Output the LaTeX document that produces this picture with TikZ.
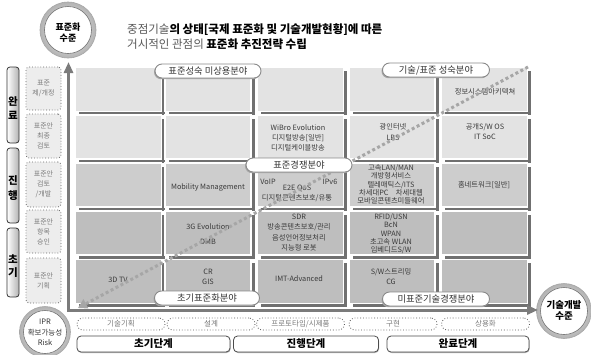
\documentclass[tikz,border=0pt]{standalone}
\usepackage{fontspec}
\setmainfont{Noto Sans CJK KR}
\usetikzlibrary{arrows.meta,shadows}
\definecolor{cellA}{HTML}{E3E3E3}
\definecolor{cellB}{HTML}{CDCDCD}
\definecolor{cellC}{HTML}{BEBEBE}
\definecolor{shad}{HTML}{707070}
\definecolor{axisc}{HTML}{7B7B7B}
\definecolor{txt}{HTML}{3A3A3A}
\definecolor{ltxt}{HTML}{7A7A7A}
\definecolor{diagc}{HTML}{A6A6A6}
\definecolor{pillb}{HTML}{8A8A8A}
\begin{document}
\begin{tikzpicture}[x=1pt,y=-1pt,
  cell/.style={draw=white, line width=1.6pt, minimum width=86pt, minimum height=44pt, inner sep=0pt,
    general shadow={fill=shad, shadow xshift=3.5pt, shadow yshift=-3.5pt}},
  ctext/.style={align=center, text=txt, inner sep=0pt, font=\fontsize{7.3}{10}\selectfont},
  tight/.style={align=center, text=txt, inner sep=0pt, font=\fontsize{7.3}{8.3}\selectfont},
  pill/.style={draw=pillb, line width=0.9pt, fill=white, rounded corners=7pt, minimum height=14pt, inner sep=0pt,
    text=black!80, font=\fontsize{9.3}{10}\selectfont,
    general shadow={fill=gray!70, shadow xshift=-1pt, shadow yshift=-1.2pt}},
  stagebox/.style={draw=black!60, line width=0.8pt, dotted, rounded corners=3pt, fill=black!7, minimum width=35pt,
    inner sep=0pt, align=center, text=ltxt, font=\fontsize{7}{10}\selectfont},
  phase/.style={draw=black!80, line width=0.8pt, rounded corners=3pt, left color=white, right color=black!30,
    minimum width=12pt, inner sep=0pt},
  phtext/.style={align=center, inner sep=0pt, font=\bfseries\fontsize{10.5}{14.5}\selectfont},
  steppill/.style={draw=black!65, line width=0.8pt, dotted, rounded corners=6pt, fill=white, minimum width=88pt,
    minimum height=12pt, inner sep=0pt, text=ltxt, font=\fontsize{7.5}{8}\selectfont},
  levelbox/.style={draw=black!70, line width=0.8pt, rounded corners=4pt, fill=white, minimum height=16pt, inner sep=0pt,
    font=\bfseries\fontsize{10.5}{12}\selectfont,
    general shadow={fill=gray!60, shadow xshift=0.6pt, shadow yshift=-1pt}},
  ringout/.style={circle, draw=black!35, line width=0.6pt, inner color=white, outer color=black!30, inner sep=0pt},
  ringin/.style={circle, draw=black!55, line width=0.6pt, fill=white, inner sep=0pt},
  axis/.style={draw=axisc, line width=3pt, line join=miter},
  diag/.style={draw=diagc, line width=3pt, dash pattern=on 3pt off 2.6pt}
]
\fill[white] (0,0) rectangle (591,354);
\useasboundingbox (0,0) rectangle (591,354);

% title
\node[anchor=west, inner sep=0pt, font=\fontsize{11.5}{13}\selectfont] (title1) at (127,30)
  {\textcolor{black!65}{중점기술}\textbf{의 상태[국제 표준화 및 기술개발현황]에 따른}};
\node[anchor=west, inner sep=0pt, font=\fontsize{11.5}{13}\selectfont] (title2) at (127,44)
  {\textcolor{black!65}{거시적인 관점의 }\textbf{표준화 추진전략 수립}};

% circles
\node[ringout, minimum size=56pt] (cyo) at (68,30) {};
\node[ringin, minimum size=47pt] (cyi) at (68,30) {};
\node[align=center, inner sep=0pt, font=\bfseries\fontsize{9}{11.5}\selectfont] (cyt) at (68,32.5) {표준화\\수준};

\node[ringout, minimum size=51pt] (cro) at (45,332) {};
\node[ringin, minimum size=43pt] (cri) at (45,332) {};
\node[align=center, inner sep=0pt, text=black!80, font=\fontsize{7.5}{10.5}\selectfont] (crt) at (45,332.5) {IPR\\확보가능성\\Risk};

\node[ringout, minimum size=55pt] (cxo) at (564,311) {};
\node[ringin, minimum size=47pt] (cxi) at (564,311) {};
\node[align=center, inner sep=0pt, font=\bfseries\fontsize{9.5}{11.5}\selectfont] (cxt) at (564,310.5) {기술개발\\수준};

% phase boxes on the left
\node[phase, minimum height=76pt] (p1) at (13,105) {};
\node[phtext] (p1t) at (13,108) {완\\료};
\node[phase, minimum height=75pt] (p2) at (13,185.5) {};
\node[phtext] (p2t) at (13,188) {진\\행};
\node[phase, minimum height=69pt] (p3) at (13,262.5) {};
\node[phtext, font=\bfseries\fontsize{10.5}{13}\selectfont] (p3t) at (13,266) {초\\기};

% standard stages
\node[stagebox, minimum height=43pt] (s1) at (43.5,88.5) {표준\\제/개정};
\node[stagebox, minimum height=44pt] (s2) at (43.5,136) {표준안\\최종\\검토};
\node[stagebox, minimum height=45pt] (s3) at (43.5,184.5) {표준안\\검토\\/개발};
\node[stagebox, minimum height=43pt] (s4) at (43.5,231.5) {표준안\\항목\\승인};
\node[stagebox, minimum height=45pt] (s5) at (43.5,280.5) {표준안\\기획};

% grid cells
\foreach \r/\y/\c in {1/89.5/cellA, 2/137/cellA, 3/185/cellB, 4/233/cellC, 5/281.5/cellC}
  \foreach \k/\x in {1/118.5, 2/208, 3/300.5, 4/392, 5/484.5}
    \node[cell, fill=\c] (c\r\k) at (\x,\y) {};

% cell texts
\node[ctext] (t15) at (485,92) {정보시스템아키텍쳐};
\node[ctext] (t23) at (298,137.5) {WiBro Evolution\\디지털방송[일반]\\디지털케이블방송};
\node[ctext, font=\fontsize{7.3}{11}\selectfont] (t24) at (393,132.5) {광인터넷\\LBS};
\node[ctext] (t25) at (485,132) {공개S/W OS\\IT SoC};
\node[ctext] (t32) at (208,188) {Mobility Management};
\node[ctext] (t33a) at (268,182) {VoIP};
\node[ctext] (t33b) at (330,182) {IPv6};
\node[ctext] (t33c) at (297,188.5) {E2E QoS};
\node[ctext] (t33d) at (297,198) {디지털콘텐츠보호/유통};
\node[tight] (t34) at (391,184.5) {고속LAN/MAN\\개방형서비스\\텔레매틱스/ITS\\차세대PC\quad 차세대웹\\모바일콘텐츠미들웨어};
\node[ctext] (t35) at (484,185) {홈네트워크[일반]};
\node[ctext, font=\fontsize{7.3}{15}\selectfont] (t42) at (208,234.5) {3G Evolution\\DMB};
\node[ctext, font=\fontsize{7.3}{10.3}\selectfont] (t43) at (299,232.5) {SDR\\방송콘텐츠보호/관리\\음성언어정보처리\\지능형 로봇};
\node[tight] (t44) at (391,234) {RFID/USN\\BcN\\WPAN\\초고속 WLAN\\임베디드S/W};
\node[ctext] (t51) at (118,280) {3D TV};
\node[ctext] (t52) at (208,277) {CR\\GIS};
\node[ctext] (t53) at (299,279) {IMT-Advanced};
\node[ctext] (t54) at (391,277) {S/W스트리밍\\CG};

% axes
\coordinate (org) at (68.5,310);
\coordinate (ytip) at (68.5,62);
\coordinate (xtip) at (538,310);
\draw[axis, {Triangle[width=9pt,length=11pt]}-{Triangle[width=9pt,length=11pt]}] (ytip) -- (org) -- (xtip);

% diagonal trend
\coordinate (dtop) at (528,67);
\coordinate (dbot) at (78,308);
\draw[diag, -{Triangle[width=10pt,length=9pt]}] (dtop) -- (dbot);

% category pills
\node[pill, minimum width=106pt] (k1) at (208,71) {표준성숙 미상용분야};
\node[pill, minimum width=107pt] (k2) at (436,70) {기술/표준 성숙분야};
\node[pill, minimum width=106pt] (k3) at (299,165) {표준경쟁분야};
\node[pill, minimum width=105pt] (k4) at (207,298) {초기표준화분야};
\node[pill, minimum width=107pt] (k5) at (436,299) {미표준기술경쟁분야};

% development steps
\node[steppill] (b1) at (121,324) {기술기획};
\node[steppill] (b2) at (211,324) {설계};
\node[steppill] (b3) at (300.5,324) {프로토타입/시제품};
\node[steppill] (b4) at (393,324) {구현};
\node[steppill] (b5) at (485.5,324) {상용화};

% development levels
\node[levelbox, minimum width=153pt] (l1) at (153.5,344) {초기단계};
\node[levelbox, minimum width=145pt] (l2) at (306,344) {진행단계};
\node[levelbox, minimum width=142pt] (l3) at (458,344) {완료단계};
\end{tikzpicture}
\end{document}
